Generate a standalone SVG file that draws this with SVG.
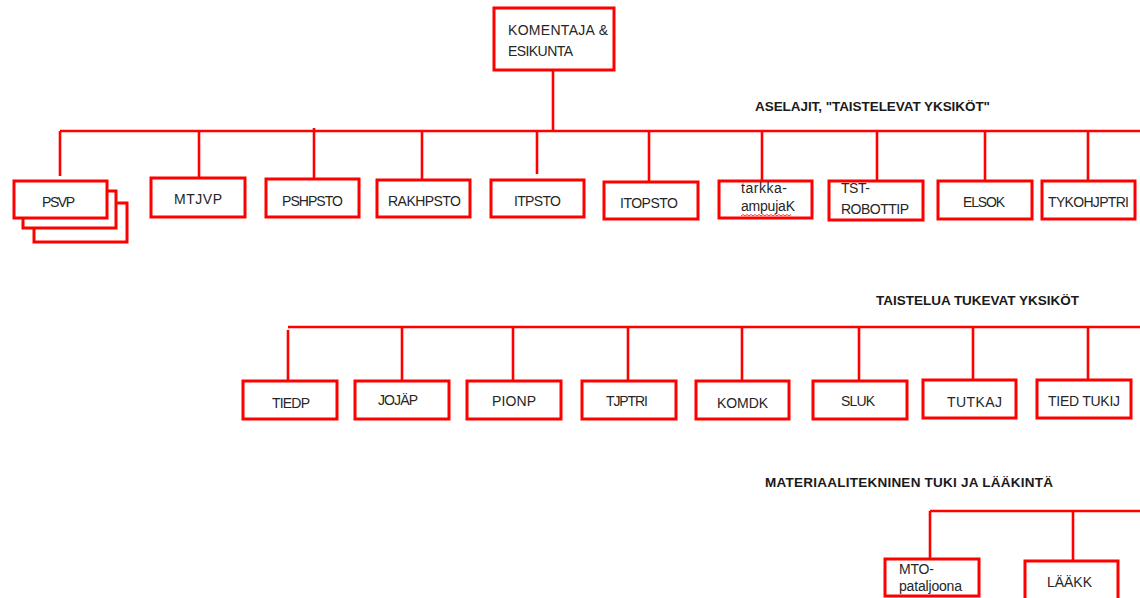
<svg xmlns="http://www.w3.org/2000/svg" width="1140" height="598" viewBox="0 0 1140 598">
  <style>
    .box { fill: #ffffff; stroke: #ff0000; stroke-width: 3; }
    .wire { fill: none; stroke: #ff0000; stroke-width: 2.6; }
    .lbl { font-family: "Liberation Sans", Arial, sans-serif; font-size: 14px; fill: #262626; }
    .hdr { font-size: 13.5px; font-weight: bold; fill: #1a1a1a; }
    .squiggle { fill: none; stroke: #ff3030; stroke-width: 1; }
  </style>

  <rect width="1140" height="598" fill="#ffffff"/>

  <!-- connectors -->
  <g id="connectors" class="wire">
    <!-- command to combat arms -->
    <line x1="553" y1="70" x2="553" y2="131"/>
    <line x1="60" y1="131" x2="1140" y2="131"/>
    <line x1="60" y1="131" x2="60" y2="176"/>
    <line x1="199" y1="131" x2="199" y2="178"/>
    <line x1="314" y1="128" x2="314" y2="179"/>
    <line x1="422" y1="131" x2="422" y2="180"/>
    <line x1="537" y1="131" x2="537" y2="174"/>
    <line x1="649" y1="131" x2="649" y2="182"/>
    <line x1="762" y1="131" x2="762" y2="181"/>
    <line x1="877" y1="131" x2="877" y2="181"/>
    <line x1="985" y1="131" x2="985" y2="181"/>
    <line x1="1088" y1="131" x2="1088" y2="181"/>
    <!-- combat support -->
    <line x1="288" y1="327" x2="1140" y2="327"/>
    <line x1="288" y1="330" x2="288" y2="381"/>
    <line x1="402" y1="327" x2="402" y2="381"/>
    <line x1="513" y1="327" x2="513" y2="381"/>
    <line x1="628" y1="327" x2="628" y2="381"/>
    <line x1="742" y1="327" x2="742" y2="381"/>
    <line x1="859" y1="327" x2="859" y2="381"/>
    <line x1="973" y1="327" x2="973" y2="380"/>
    <line x1="1088" y1="327" x2="1088" y2="380"/>
    <!-- logistics and medical -->
    <line x1="930" y1="511" x2="1140" y2="511"/>
    <line x1="930" y1="511" x2="930" y2="559"/>
    <line x1="1073" y1="511" x2="1073" y2="561"/>
  </g>

  <!-- section headings -->
  <text class="lbl hdr" x="755" y="111" textLength="235" lengthAdjust="spacing">ASELAJIT, "TAISTELEVAT YKSIKÖT"</text>
  <text class="lbl hdr" x="876" y="305" textLength="203" lengthAdjust="spacing">TAISTELUA TUKEVAT YKSIKÖT</text>
  <text class="lbl hdr" x="765" y="487" textLength="288" lengthAdjust="spacing">MATERIAALITEKNINEN TUKI JA LÄÄKINTÄ</text>

  <!-- command -->
  <g id="komentaja">
    <rect class="box" x="494" y="8" width="120" height="62"/>
    <text class="lbl" x="508" y="35" textLength="100" lengthAdjust="spacing">KOMENTAJA &amp;</text>
    <text class="lbl" x="508" y="56" textLength="65" lengthAdjust="spacing">ESIKUNTA</text>
  </g>

  <!-- combat arms -->
  <g id="psvp">
    <rect class="box" x="34" y="203" width="93" height="39"/>
    <rect class="box" x="23" y="191" width="93" height="37"/>
    <rect class="box" x="14" y="181" width="93" height="37"/>
    <text class="lbl" x="42" y="207" textLength="33" lengthAdjust="spacing">PSVP</text>
  </g>
  <g id="mtjvp">
    <rect class="box" x="151" y="178" width="94" height="39"/>
    <text class="lbl" x="174" y="204" textLength="48" lengthAdjust="spacing">MTJVP</text>
  </g>
  <g id="pshpsto">
    <rect class="box" x="266" y="179" width="93" height="38"/>
    <text class="lbl" x="282" y="206" textLength="61" lengthAdjust="spacing">PSHPSTO</text>
  </g>
  <g id="rakhpsto">
    <rect class="box" x="377" y="180" width="93" height="37"/>
    <text class="lbl" x="388" y="206" textLength="73" lengthAdjust="spacing">RAKHPSTO</text>
  </g>
  <g id="itpsto">
    <rect class="box" x="491" y="180" width="93" height="37"/>
    <text class="lbl" x="514" y="206" textLength="47" lengthAdjust="spacing">ITPSTO</text>
  </g>
  <g id="itopsto">
    <rect class="box" x="604" y="182" width="94" height="37"/>
    <text class="lbl" x="620" y="208" textLength="58" lengthAdjust="spacing">ITOPSTO</text>
  </g>
  <g id="tarkka-ampujak">
    <rect class="box" x="719" y="181" width="93" height="37"/>
    <text class="lbl" x="741" y="193" textLength="46" lengthAdjust="spacing">tarkka-</text>
    <text class="lbl" x="741" y="211" textLength="54" lengthAdjust="spacing">ampujaK</text>
    <path class="squiggle" d="M741 216 l2 -1.5 l2 1.5 l2 -1.5 l2 1.5 l2 -1.5 l2 1.5 l2 -1.5 l2 1.5 l2 -1.5 l2 1.5 l2 -1.5 l2 1.5 l2 -1.5 l2 1.5 l2 -1.5 l2 1.5 l2 -1.5 l2 1.5 l2 -1.5 l2 1.5 l2 -1.5 l2 1.5 l2 -1.5 l2 1.5 l2 -1.5"/>
  </g>
  <g id="tst-robottip">
    <rect class="box" x="829" y="181" width="94" height="39"/>
    <text class="lbl" x="841" y="193" textLength="29" lengthAdjust="spacing">TST-</text>
    <text class="lbl" x="841" y="214" textLength="68" lengthAdjust="spacing">ROBOTTIP</text>
  </g>
  <g id="elsok">
    <rect class="box" x="938" y="181" width="94" height="38"/>
    <text class="lbl" x="963" y="207" textLength="42" lengthAdjust="spacing">ELSOK</text>
  </g>
  <g id="tykohjptri">
    <rect class="box" x="1042" y="181" width="93" height="38"/>
    <text class="lbl" x="1048" y="207" textLength="81" lengthAdjust="spacing">TYKOHJPTRI</text>
  </g>

  <!-- combat support units -->
  <g id="tiedp">
    <rect class="box" x="243" y="381" width="94" height="38"/>
    <text class="lbl" x="272" y="408" textLength="38" lengthAdjust="spacing">TIEDP</text>
  </g>
  <g id="jojap">
    <rect class="box" x="355" y="381" width="94" height="38"/>
    <text class="lbl" x="378" y="405" textLength="40" lengthAdjust="spacing">JOJÄP</text>
  </g>
  <g id="pionp">
    <rect class="box" x="467" y="381" width="94" height="38"/>
    <text class="lbl" x="492" y="406" textLength="44" lengthAdjust="spacing">PIONP</text>
  </g>
  <g id="tjptri">
    <rect class="box" x="582" y="381" width="94" height="38"/>
    <text class="lbl" x="606" y="406" textLength="42" lengthAdjust="spacing">TJPTRI</text>
  </g>
  <g id="komdk">
    <rect class="box" x="696" y="381" width="93" height="38"/>
    <text class="lbl" x="717" y="408" textLength="51" lengthAdjust="spacing">KOMDK</text>
  </g>
  <g id="sluk">
    <rect class="box" x="813" y="381" width="94" height="38"/>
    <text class="lbl" x="841" y="406" textLength="34" lengthAdjust="spacing">SLUK</text>
  </g>
  <g id="tutkaj">
    <rect class="box" x="923" y="380" width="93" height="38"/>
    <text class="lbl" x="947" y="407" textLength="55" lengthAdjust="spacing">TUTKAJ</text>
  </g>
  <g id="tied-tukij">
    <rect class="box" x="1037" y="380" width="94" height="38"/>
    <text class="lbl" x="1048" y="406" textLength="72" lengthAdjust="spacing">TIED TUKIJ</text>
  </g>

  <!-- logistics and medical units -->
  <g id="mto-pataljoona">
    <rect class="box" x="885" y="559" width="94" height="37"/>
    <text class="lbl" x="899" y="574" textLength="35" lengthAdjust="spacing">MTO-</text>
    <text class="lbl" x="899" y="591" textLength="63" lengthAdjust="spacing">pataljoona</text>
  </g>
  <g id="laakk">
    <rect class="box" x="1025" y="561" width="93" height="39"/>
    <text class="lbl" x="1047" y="587" textLength="45" lengthAdjust="spacing">LÄÄKK</text>
  </g>
</svg>
